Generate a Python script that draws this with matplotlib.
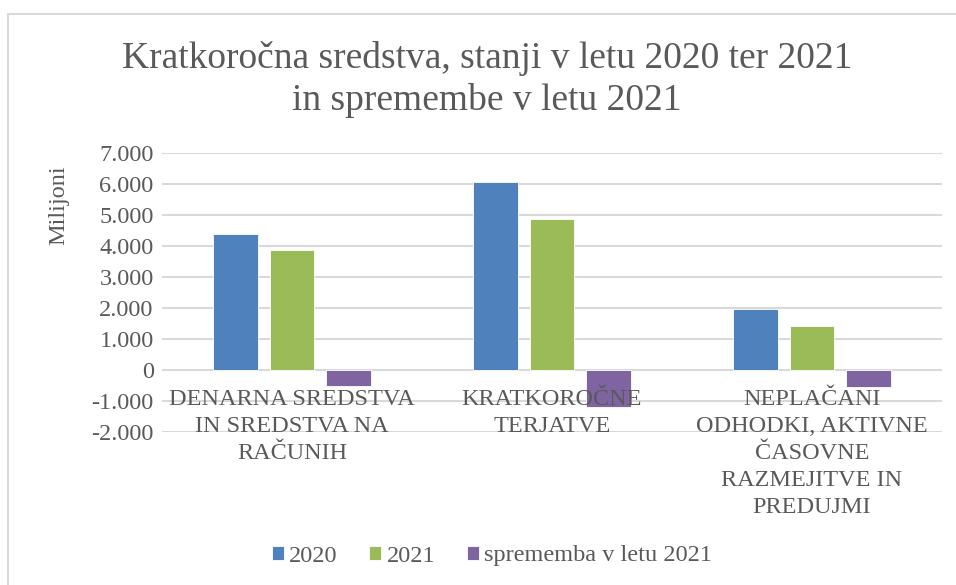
import matplotlib
matplotlib.use("Agg")
import matplotlib.pyplot as plt
from matplotlib.patches import Rectangle
from matplotlib.ticker import FuncFormatter
import numpy as np

plt.rcParams['font.family'] = ['Liberation Serif', 'DejaVu Serif']

# data (milijoni)
categories = ["DENARNA SREDSTVA\nIN SREDSTVA NA\nRAČUNIH",
              "KRATKOROČNE\nTERJATVE",
              "NEPLAČANI\nODHODKI, AKTIVNE\nČASOVNE\nRAZMEJITVE IN\nPREDUJMI"]
series_names = ["2020", "2021", "sprememba v letu 2021"]
vals_2020 = [4400, 6070, 1970]
vals_2021 = [3880, 4870, 1410]
vals_change = [-520, -1200, -560]
yticks = [-2000, -1000, 0, 1000, 2000, 3000, 4000, 5000, 6000, 7000]

colors = ["#4F81BD", "#9BBB59", "#8064A2"]
text_gray = "#595959"
grid_gray = "#D9D9D9"
fs = 17.5

W, H = 956, 585
fig = plt.figure(figsize=(W / 100, H / 100), dpi=100)
ax = fig.add_axes([162 / W, 1 - 432 / H, 780 / W, (432 - 153) / H])

x = np.arange(len(categories))
step = 0.219
width = 0.173
for i, (name, vals) in enumerate(zip(series_names, [vals_2020, vals_2021, vals_change])):
    ax.bar(x + (i - 1) * step, vals, width, color=colors[i], label=name,
           edgecolor="white", linewidth=0.6, zorder=3)

ax.set_xlim(-0.5, 2.5)
ax.set_ylim(-2000, 7000)
ax.set_yticks(yticks)
ax.yaxis.set_major_formatter(FuncFormatter(lambda v, p: f"{int(v):,}".replace(",", ".")))
ax.grid(axis="y", color=grid_gray, linewidth=1.5, zorder=0)
ax.set_xticks([])
for s in ax.spines.values():
    s.set_visible(False)
ax.tick_params(axis="y", length=0, labelsize=fs, labelcolor=text_gray, pad=6)

# category labels sit just under the zero line
for xi, lab in zip(x, categories):
    ax.annotate(lab, (xi, 0), xytext=(0, -14), textcoords="offset points",
                ha="center", va="top", fontsize=fs, color=text_gray,
                linespacing=1.37, zorder=5)

fig.text(487 / W, 1 - 41 / H,
         "Kratkoročna sredstva, stanji v letu 2020 ter 2021\nin spremembe v letu 2021",
         ha="center", va="top", fontsize=27, color=text_gray, linespacing=1.26)

fig.text(59 / W, 1 - 205 / H, "Milijoni", rotation=90, ha="center", va="center",
         fontsize=fs, color=text_gray)

fig.legend(loc="center", bbox_to_anchor=(492 / W, 1 - 556 / H), ncol=3, frameon=False,
           fontsize=fs, labelcolor=text_gray, handlelength=0.5, handleheight=0.5,
           handletextpad=0.22, columnspacing=1.3)

# chart border (only top/left visible in the crop)
fig.patches.append(Rectangle((8 / W, -0.1), 1.2, 1 - 14 / H + 0.1, transform=fig.transFigure,
                             fill=False, edgecolor=grid_gray, linewidth=1.5))

fig.savefig("out.png", dpi=100)
